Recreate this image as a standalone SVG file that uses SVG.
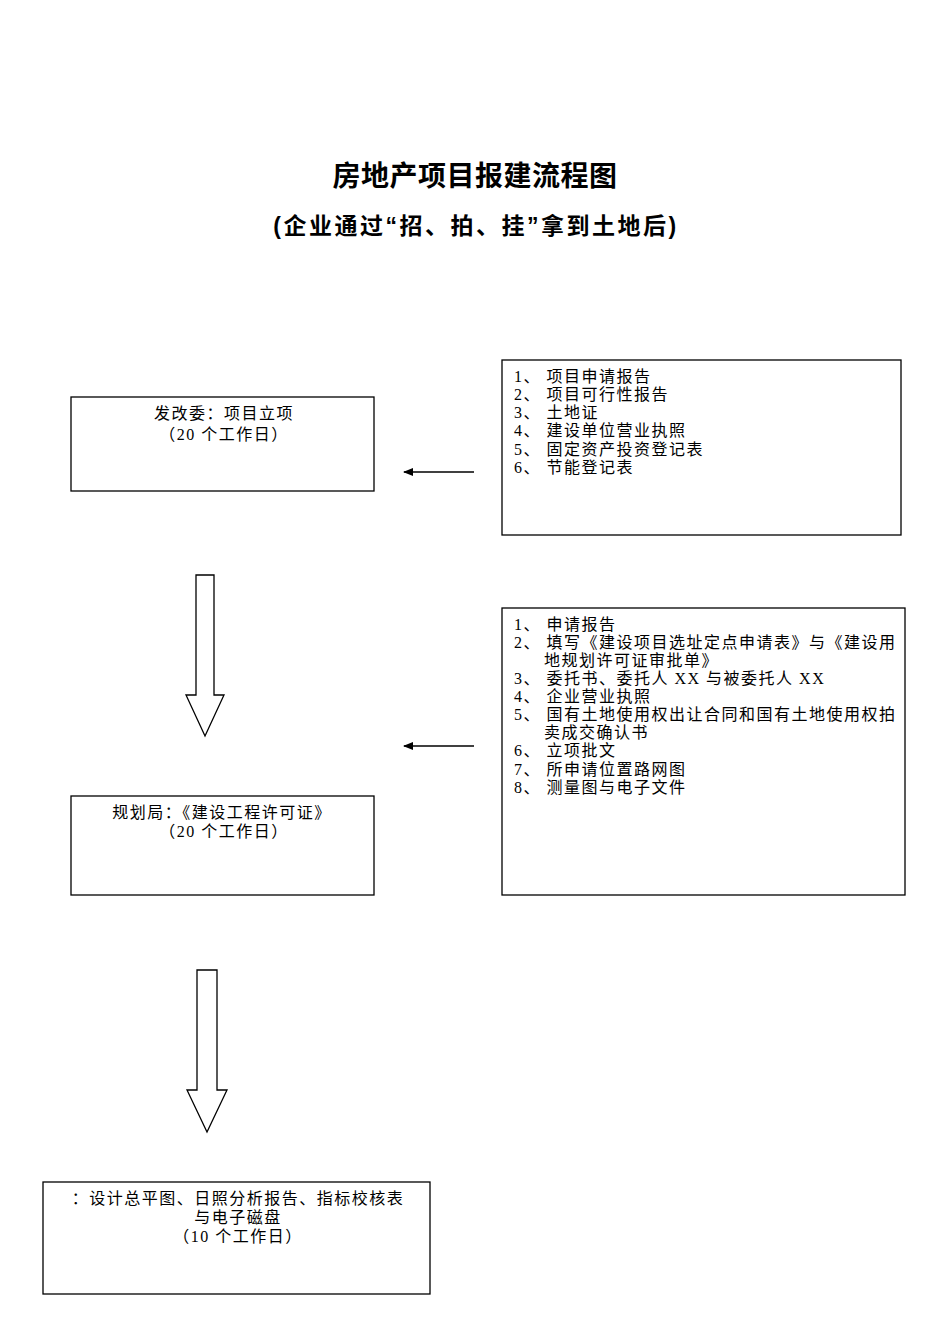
<svg xmlns="http://www.w3.org/2000/svg" width="950" height="1344" viewBox="0 0 950 1344">
<style>
.b{fill:#fff;stroke:#000;stroke-width:1.3}
.t{font-family:"Liberation Serif","Noto Sans CJK SC",serif;font-size:16px;letter-spacing:1.5px;fill:#000}
.c{text-anchor:middle}
.h{font-family:"Liberation Sans","Noto Sans CJK SC",sans-serif;font-weight:bold;fill:#000;text-anchor:middle}
.l{stroke:#000;stroke-width:1.3;fill:none}
</style>
<defs><marker id="a" markerWidth="10" markerHeight="8" refX="9" refY="4" orient="auto" markerUnits="userSpaceOnUse"><path d="M0,0L10,4L0,8z"/></marker></defs>
<rect width="950" height="1344" fill="#fff"/>
<text class="h" x="475" y="186" font-size="28" letter-spacing="0.5">房地产项目报建流程图</text>
<text class="h" x="476" y="234" font-size="23" letter-spacing="2.5">(企业通过“招、拍、挂”拿到土地后)</text>
<g id="n1"><rect class="b" x="71" y="397" width="303" height="94"/>
<text class="t c" x="224" y="419">发改委：项目立项</text><text class="t c" x="224" y="440">（20 个工作日）</text></g>
<g id="n2"><rect class="b" x="502" y="360" width="399" height="175"/>
<text class="t" x="514" y="382">1、 项目申请报告</text>
<text class="t" x="514" y="400">2、 项目可行性报告</text>
<text class="t" x="514" y="418">3、 土地证</text>
<text class="t" x="514" y="436">4、 建设单位营业执照</text>
<text class="t" x="514" y="455">5、 固定资产投资登记表</text>
<text class="t" x="514" y="473">6、 节能登记表</text></g>
<g id="n3"><rect class="b" x="502" y="608" width="403" height="287"/>
<text class="t" x="514" y="630">1、 申请报告</text>
<text class="t" x="514" y="648">2、 填写《建设项目选址定点申请表》与《建设用</text>
<text class="t" x="544" y="666">地规划许可证审批单》</text>
<text class="t" x="514" y="684">3、 委托书、委托人 XX 与被委托人 XX</text>
<text class="t" x="514" y="702">4、 企业营业执照</text>
<text class="t" x="514" y="720">5、 国有土地使用权出让合同和国有土地使用权拍</text>
<text class="t" x="544" y="738">卖成交确认书</text>
<text class="t" x="514" y="756">6、 立项批文</text>
<text class="t" x="514" y="775">7、 所申请位置路网图</text>
<text class="t" x="514" y="793">8、 测量图与电子文件</text></g>
<g id="n4"><rect class="b" x="71" y="796" width="303" height="99"/>
<text class="t c" x="222" y="818">规划局：《建设工程许可证》</text><text class="t c" x="224" y="837">（20 个工作日）</text></g>
<g id="n5"><rect class="b" x="43" y="1182" width="387" height="112"/>
<text class="t c" x="238" y="1204">：设计总平图、日照分析报告、指标校核表</text>
<text class="t c" x="238" y="1223">与电子磁盘</text>
<text class="t c" x="238" y="1242">（10 个工作日）</text></g>
<g id="connectors">
<line class="l" x1="474" y1="472" x2="404" y2="472" marker-end="url(#a)"/>
<line class="l" x1="474" y1="746" x2="404" y2="746" marker-end="url(#a)"/>
<path class="b" d="M196,575H214V695H224L205,736L186,695H196Z"/>
<path class="b" d="M197,970H217V1090H227L207,1132L187,1090H197Z"/>
</g>
</svg>
